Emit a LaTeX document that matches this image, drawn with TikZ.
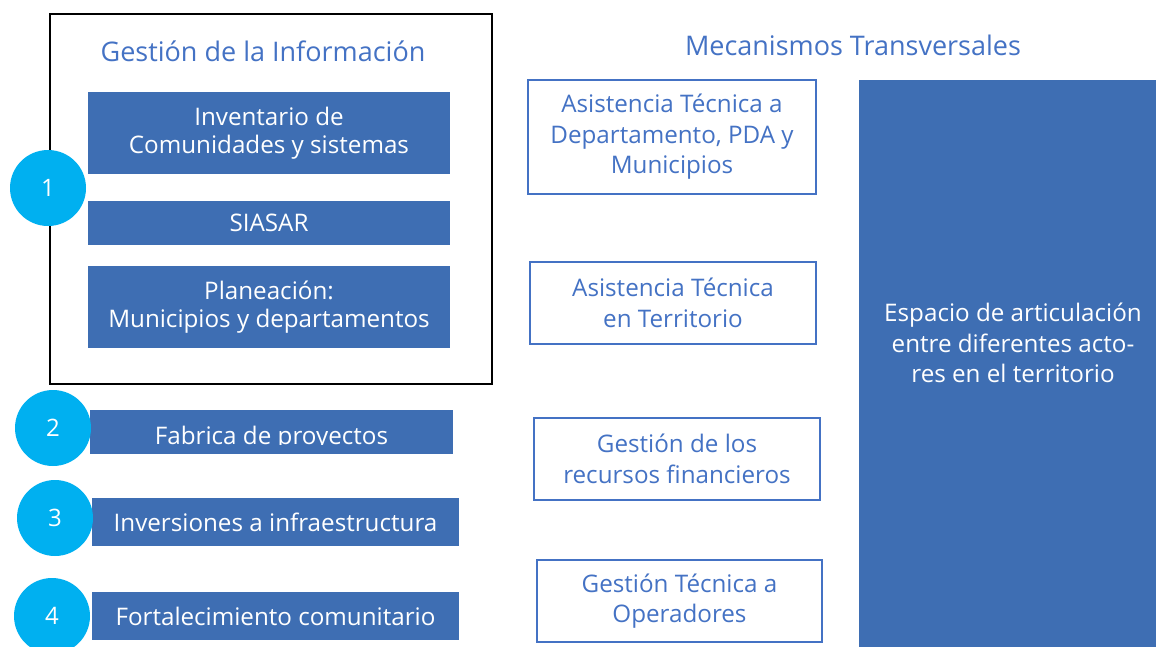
\documentclass[tikz,border=0pt]{standalone}
\usepackage{fontspec}
\setmainfont{Open Sans}
\definecolor{boxblue}{HTML}{3E6EB3}
\definecolor{txtblue}{HTML}{4472C4}
\definecolor{circcyan}{HTML}{00B0F0}
\tikzset{
  fillbox/.style={rectangle, fill=boxblue, text=white, inner sep=0pt, align=center, font=\fontsize{24.2}{28}\selectfont},
  linebox/.style={rectangle, draw=txtblue, line width=1.8pt, fill=white, text=txtblue, inner sep=0pt, align=center, font=\fontsize{24.2}{30.5}\selectfont},
  numcirc/.style={circle, fill=circcyan, text=white, minimum size=76pt, inner sep=0pt, font=\fontsize{24}{28}\selectfont},
  titletext/.style={text=txtblue, font=\fontsize{27}{30}\selectfont}
}
\begin{document}
\begin{tikzpicture}[x=1pt,y=-1pt]
\useasboundingbox (0,0) rectangle (1156,646);
% frame
\node[draw=black, line width=2.2pt, minimum width=442pt, minimum height=370pt, inner sep=0pt] (frame) at (271,199) {};
\node[titletext] (gtitle) at (263,51) {Gestión de la Información};
\node[fillbox, minimum width=362pt, minimum height=82pt] (inv) at (269,133) {Inventario de\\Comunidades y sistemas};
\node[fillbox, minimum width=362pt, minimum height=44pt] (siasar) at (269,223) {SIASAR};
\node[fillbox, minimum width=362pt, minimum height=82pt] (plan) at (269,307) {Planeación:\\Municipios y departamentos};
\node[fillbox, minimum width=363pt, minimum height=44pt] (fab) at (271.5,432) {};
\begin{scope}
\clip (90,410) rectangle (453,444.5);
\node[text=white, font=\fontsize{24.2}{28}\selectfont, anchor=base] (fabtxt) at (271.5,444) {Fabrica de proyectos};
\end{scope}
\node[fillbox, minimum width=367pt, minimum height=48pt] (inver) at (275.5,522) {Inversiones a infraestructura};
\node[fillbox, minimum width=367pt, minimum height=48pt] (fort) at (275.5,616) {Fortalecimiento comunitario};
% circles
\node[numcirc] (c1) at (48,188) {1};
\node[numcirc] (c2) at (53,428) {2};
\node[numcirc] (c3) at (55,518) {3};
\node[numcirc] (c4) at (52,616) {4};
% right side
\node[titletext] (mtitle) at (853,45) {Mecanismos Transversales};
\node[linebox, minimum width=288pt, minimum height=114pt] (a) at (672,137) {Asistencia Técnica a\\Departamento, PDA y\\Municipios};
\node[linebox, minimum width=286pt, minimum height=82pt] (b) at (673,303) {Asistencia Técnica\\en Territorio};
\node[linebox, minimum width=286pt, minimum height=82pt] (c) at (677,459) {Gestión de los\\recursos financieros};
\node[linebox, minimum width=285pt, minimum height=82pt] (d) at (679.5,601) {Gestión Técnica a\\Operadores};
\node[fillbox, minimum width=300pt, minimum height=570pt] (esp) at (1009,365) {};
\node[text=white, align=center, font=\fontsize{24.2}{30.5}\selectfont] (esptxt) at (1013,343) {Espacio de articulación\\entre diferentes acto-\\res en el territorio};
\end{tikzpicture}
\end{document}
